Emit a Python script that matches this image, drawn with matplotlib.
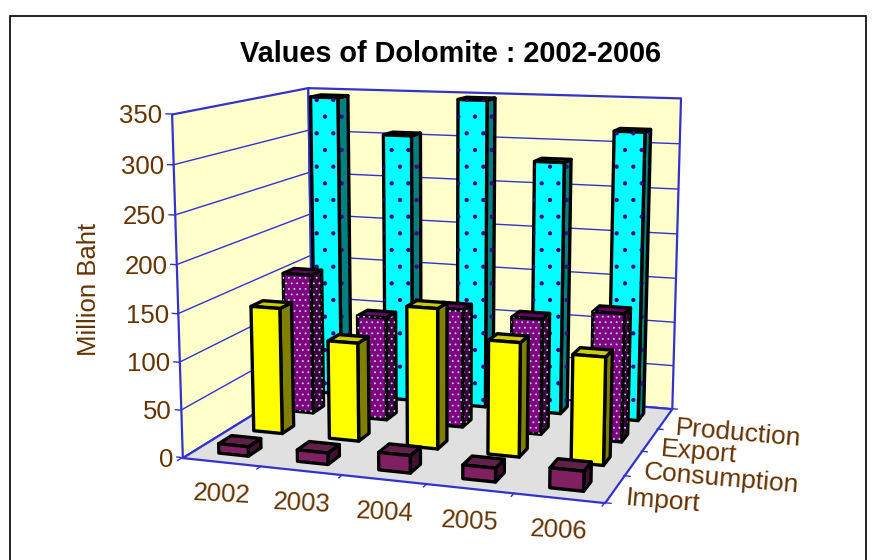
import matplotlib
matplotlib.use('Agg')
import matplotlib.pyplot as plt
from matplotlib.patches import Rectangle
from matplotlib.transforms import offset_copy
from mpl_toolkits.mplot3d.art3d import Poly3DCollection
from mpl_toolkits.mplot3d import proj3d

years = ['2002', '2003', '2004', '2005', '2006']
series = ['Import', 'Consumption', 'Export', 'Production']
zticks = [0, 50, 100, 150, 200, 250, 300, 350]

importVals = [10, 12, 18, 14, 20]
consumption = [137, 106, 149, 120, 112]
export = [157, 115, 130, 126, 138]
production = [345, 305, 347, 282, 318]

blue = '#3333CC'
brown = '#663300'
plt.rcParams['font.family'] = ['Liberation Sans', 'DejaVu Sans']
plt.rcParams['hatch.linewidth'] = 0.6

fig = plt.figure(figsize=(8.78, 5.6), dpi=100)
fig.add_artist(Rectangle((10/878, -0.1), 856/878, 1.1 - 16/560, transform=fig.transFigure,
                         fc='white', ec='black', lw=1.2, zorder=-1))
fig.text(450/878, 1 - 54/560, 'Values of Dolomite : 2002-2006', fontsize=20.8, fontweight='bold',
         ha='center', va='center')
fig.text(89/878, 1 - 289/560, 'Million Baht', fontsize=18.5, color=brown, rotation=90,
         ha='center', va='center')

ax = fig.add_axes([(432 - 280)/878, 0.001, 560/878, 1.0], projection='3d')
ax.set_proj_type('persp', focal_length=0.54)
ax.view_init(elev=11, azim=-71.5)
ax.set_box_aspect((414, 320, 330), zoom=1.08)
ax.set_xlim(0, 5)
ax.set_ylim(0, 4)
ax.set_zlim(0, 350)
ax.set_axis_off()
ax.computed_zorder = False
ax.patch.set_visible(False)

def wall(verts, color, z):
  ax.add_collection3d(Poly3DCollection([verts], facecolors=color, edgecolors=blue, linewidths=1.6, zorder=z))

def label(x, y, z, s, rot, ha, dx, dy, size=18.5):
  px, py, _ = proj3d.proj_transform(x, y, z, ax.get_proj())
  ax.text2D(px, py, s, transform=offset_copy(ax.transData, fig, x=dx, y=dy, units='dots'),
            fontsize=size, color=brown, rotation=rot, rotation_mode='anchor', ha=ha, va='center')

wall([(0, 0, 0), (0, 4, 0), (0, 4, 350), (0, 0, 350)], '#FFFFCC', 1)
wall([(0, 4, 0), (5, 4, 0), (5, 4, 350), (0, 4, 350)], '#FFFFCC', 1)
for v in zticks[1:-1]:
  ax.plot([0, 0, 5], [0, 4, 4], [v, v, v], color=blue, lw=1.0, zorder=2)
wall([(0, 0, 0), (5, 0, 0), (5, 4, 0), (0, 4, 0)], '#E0E0E0', 3)

for v in zticks:
  ax.plot([-0.07, 0], [0, 0], [v, v], color=blue, lw=1.0, zorder=4)
  label(0, 0, v, str(v), 0, 'right', -9, -2)
for i in range(6):
  ax.plot([i, i], [-0.12, 0], [0, 0], color=blue, lw=1.0, zorder=4)
for j in range(5):
  ax.plot([5, 5.07], [j, j], [0, 0], color=blue, lw=1.0, zorder=4)
for i, y in enumerate(years):
  label(i + 0.5, 0, 0, y, -3, 'center', 0, -33)
for j, s in enumerate(series):
  label(5, j + 0.5, 0, s, -5, 'left', 11, -9, 19)

def bar(x, y, h, colors, hatch, dot, z):
  w = 0.38
  d = 0.36
  x0, x1, y0, y1 = x - w/2, x + w/2, y - d/2, y + d/2
  front = [(x0, y0, 0), (x1, y0, 0), (x1, y0, h), (x0, y0, h)]
  right = [(x1, y0, 0), (x1, y1, 0), (x1, y1, h), (x1, y0, h)]
  top = [(x0, y0, h), (x1, y0, h), (x1, y1, h), (x0, y1, h)]
  for f, c in zip([right, top, front], colors):
    ax.add_collection3d(Poly3DCollection([f], facecolors=c, edgecolors='black', linewidths=2.4, zorder=z))
    if hatch and f is not top:
      ax.add_collection3d(Poly3DCollection([f], facecolors=[(0, 0, 0, 0)], edgecolors=dot, linewidths=0,
                                           hatch=hatch, zorder=z))

styles = [
  (importVals, ('#401030', '#602048', '#802060'), None, None),
  (consumption, ('#808000', '#CCCC00', '#FFFF00'), None, None),
  (export, ('#400040', '#660066', '#800080'), '...', '#A8D8E8'),
  (production, ('#008080', '#00CCCC', '#00FFFF'), '.', '#400080'),
]
z = 100
for j in range(3, -1, -1):
  vals, colors, hatch, dot = styles[j]
  for i in range(5):
    bar(i + 0.5, j + 0.5, vals[i], colors, hatch, dot, z)
    z += 1

fig.savefig('out.png', dpi=100)
